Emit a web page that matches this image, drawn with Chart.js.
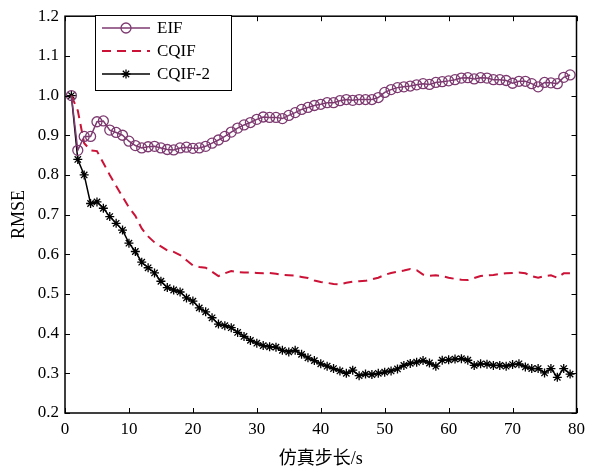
<!DOCTYPE html>
<html>
<head>
<meta charset="utf-8">
<script src="https://cdn.jsdelivr.net/npm/chart.js@4"></script>
<style>
  html, body { margin: 0; padding: 0; background: #fff; }
  #wrap { width: 591px; height: 470px; }
</style>
</head>
<body>
<div id="wrap"><canvas id="canvas" width="591" height="470"></canvas></div>
<script>
const steps = [];
for (let i = 1; i <= 79; i++) steps.push(i);

const eif = [1.00, 0.862, 0.897, 0.897, 0.934, 0.936, 0.913, 0.907, 0.900, 0.885,
  0.874, 0.868, 0.871, 0.872, 0.868, 0.864, 0.863, 0.868, 0.870, 0.867,
  0.868, 0.872, 0.880, 0.888, 0.897, 0.908, 0.918, 0.926, 0.932, 0.940,
  0.946, 0.945, 0.945, 0.942, 0.950, 0.957, 0.965, 0.970, 0.975, 0.978,
  0.982, 0.982, 0.987, 0.990, 0.988, 0.990, 0.990, 0.990, 0.995, 1.008,
  1.015, 1.020, 1.022, 1.024, 1.027, 1.030, 1.028, 1.033, 1.035, 1.037,
  1.040, 1.044, 1.045, 1.042, 1.045, 1.044, 1.040, 1.040, 1.038, 1.031,
  1.036, 1.036, 1.030, 1.022, 1.033, 1.032, 1.030, 1.046, 1.052];

const cqif = [1.00, 0.962, 0.880, 0.862, 0.860, 0.830, 0.800, 0.772, 0.745, 0.718,
  0.697, 0.665, 0.645, 0.630, 0.620, 0.610, 0.606, 0.598, 0.585, 0.572,
  0.568, 0.566, 0.556, 0.545, 0.552, 0.558, 0.555, 0.554, 0.554, 0.553,
  0.552, 0.553, 0.551, 0.548, 0.547, 0.546, 0.543, 0.540, 0.534, 0.530,
  0.528, 0.525, 0.524, 0.528, 0.531, 0.532, 0.533, 0.537, 0.541, 0.548,
  0.553, 0.556, 0.559, 0.563, 0.560, 0.549, 0.546, 0.547, 0.545, 0.541,
  0.538, 0.536, 0.535, 0.540, 0.545, 0.547, 0.548, 0.550, 0.552, 0.553,
  0.554, 0.552, 0.545, 0.541, 0.545, 0.547, 0.541, 0.552, 0.552];

const cqif2 = [1.00, 0.839, 0.800, 0.728, 0.732, 0.716, 0.695, 0.678, 0.661, 0.628,
  0.607, 0.580, 0.566, 0.553, 0.532, 0.516, 0.510, 0.505, 0.490, 0.482,
  0.465, 0.455, 0.440, 0.424, 0.420, 0.415, 0.403, 0.393, 0.383, 0.376,
  0.370, 0.367, 0.366, 0.358, 0.354, 0.358, 0.348, 0.339, 0.332, 0.324,
  0.318, 0.312, 0.306, 0.300, 0.308, 0.294, 0.298, 0.297, 0.300, 0.303,
  0.306, 0.311, 0.320, 0.325, 0.328, 0.332, 0.326, 0.318, 0.333, 0.334,
  0.336, 0.337, 0.333, 0.320, 0.324, 0.323, 0.320, 0.320, 0.318, 0.322,
  0.324, 0.316, 0.312, 0.312, 0.301, 0.312, 0.290, 0.312, 0.298];

const xTicks = [0, 10, 20, 30, 40, 50, 60, 70, 80];
const yTicks = [0.2, 0.3, 0.4, 0.5, 0.6, 0.7, 0.8, 0.9, 1.0, 1.1, 1.2];
const names = ["EIF", "CQIF", "CQIF-2"];

const SERIF = "'Liberation Serif', 'Times New Roman', serif";
const PURPLE = "#7d3a70";
const RED = "#cc1236";

function pts(arr) {
  return arr.map((v, i) => ({ x: steps[i], y: v }));
}

// box + inward ticks, MATLAB style
const boxPlugin = {
  id: "box",
  afterDraw(chart) {
    const { ctx, chartArea: a, scales } = chart;
    ctx.save();
    ctx.strokeStyle = "#000";
    ctx.lineWidth = 1.5;
    ctx.strokeRect(a.left, a.top, a.right - a.left, a.bottom - a.top);
    ctx.lineWidth = 1;
    ctx.beginPath();
    xTicks.forEach(t => {
      const px = Math.round(scales.x.getPixelForValue(t)) + 0.5;
      ctx.moveTo(px, a.bottom); ctx.lineTo(px, a.bottom - 5);
      ctx.moveTo(px, a.top); ctx.lineTo(px, a.top + 5);
    });
    yTicks.forEach(t => {
      const py = Math.round(scales.y.getPixelForValue(t)) + 0.5;
      ctx.moveTo(a.left, py); ctx.lineTo(a.left + 5, py);
      ctx.moveTo(a.right, py); ctx.lineTo(a.right - 5, py);
    });
    ctx.stroke();
    ctx.restore();
  }
};

function drawStar(ctx, x, y, r) {
  ctx.beginPath();
  for (let k = 0; k < 4; k++) {
    const ang = k * Math.PI / 4;
    ctx.moveTo(x - Math.cos(ang) * r, y - Math.sin(ang) * r);
    ctx.lineTo(x + Math.cos(ang) * r, y + Math.sin(ang) * r);
  }
  ctx.stroke();
}

// legend in the top left corner of the plot
const legendPlugin = {
  id: "boxLegend",
  afterDraw(chart) {
    const ctx = chart.ctx;
    const bx = 95, by = 15, bw = 136, bh = 75;
    ctx.save();
    ctx.fillStyle = "#fff";
    ctx.fillRect(bx, by, bw, bh);
    ctx.strokeStyle = "#000";
    ctx.lineWidth = 1;
    ctx.strokeRect(bx + 0.5, by + 0.5, bw, bh);
    chart.data.datasets.forEach((ds, i) => {
      const y = by + 13 + i * 23;
      ctx.strokeStyle = ds.borderColor;
      ctx.lineWidth = ds.borderWidth;
      ctx.setLineDash(ds.borderDash || []);
      ctx.beginPath();
      ctx.moveTo(102, y); ctx.lineTo(150, y);
      ctx.stroke();
      ctx.setLineDash([]);
      if (ds.pointStyle === "circle") {
        ctx.lineWidth = 1.3;
        ctx.beginPath();
        ctx.arc(126, y, 5, 0, Math.PI * 2);
        ctx.stroke();
      } else if (ds.pointStyle === "star") {
        ctx.lineWidth = 1.3;
        drawStar(ctx, 126, y, 4.5);
      }
      ctx.fillStyle = "#000";
      ctx.font = "17px " + SERIF;
      ctx.textBaseline = "middle";
      ctx.fillText(names[i], 157, y + 1);
    });
    ctx.restore();
  }
};

new Chart(document.getElementById("canvas"), {
  type: "line",
  data: {
    datasets: [
      {
        label: names[0],
        data: pts(eif),
        borderColor: PURPLE,
        borderWidth: 1.5,
        pointStyle: "circle",
        pointRadius: 5,
        pointBorderWidth: 1.3,
        pointBorderColor: PURPLE,
        pointBackgroundColor: "rgba(0,0,0,0)"
      },
      {
        label: names[1],
        data: pts(cqif),
        borderColor: RED,
        borderWidth: 2,
        borderDash: [9, 6],
        pointRadius: 0
      },
      {
        label: names[2],
        data: pts(cqif2),
        borderColor: "#000",
        borderWidth: 1.5,
        pointStyle: "star",
        pointRadius: 4.5,
        pointBorderWidth: 1.3,
        pointBorderColor: "#000"
      }
    ]
  },
  options: {
    responsive: false,
    animation: false,
    layout: { padding: { top: 13, right: 11, left: 0, bottom: 0 } },
    plugins: {
      legend: { display: false },
      tooltip: { enabled: false }
    },
    scales: {
      x: {
        type: "linear",
        min: 0, max: 80,
        afterBuildTicks: s => { s.ticks = xTicks.map(v => ({ value: v })); },
        grid: { display: false, drawTicks: false },
        border: { display: false },
        ticks: {
          color: "#000",
          font: { family: SERIF, size: 17 },
          padding: 6,
          maxRotation: 0,
          callback: v => String(v)
        },
        title: {
          display: true,
          text: "仿真步长/s",
          color: "#000",
          font: { family: "'Liberation Serif', 'Noto Sans CJK SC', serif", size: 18 },
          padding: { top: 3, bottom: 0 }
        },
        afterFit: s => { s.height = 57; }
      },
      y: {
        min: 0.2, max: 1.2,
        afterBuildTicks: s => { s.ticks = yTicks.map(v => ({ value: v })); },
        grid: { display: false, drawTicks: false },
        border: { display: false },
        ticks: {
          color: "#000",
          font: { family: SERIF, size: 17 },
          padding: 6,
          callback: v => v.toFixed(1)
        },
        title: {
          display: true,
          text: "RMSE",
          color: "#000",
          font: { family: SERIF, size: 18 },
          padding: { top: 8, bottom: 2 }
        },
        afterFit: s => { s.width = 65; }
      }
    }
  },
  plugins: [boxPlugin, legendPlugin]
});
</script>
</body>
</html>
